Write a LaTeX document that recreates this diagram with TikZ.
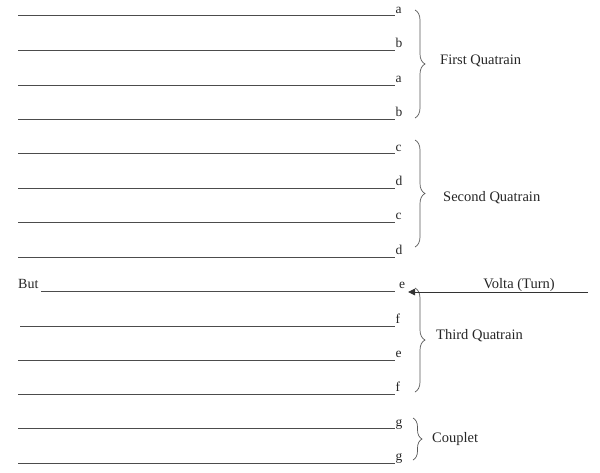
\documentclass[tikz,border=0pt]{standalone}
\usepackage{fontspec}
\setmainfont{Liberation Serif}
\usetikzlibrary{decorations.pathreplacing,arrows.meta}
\begin{document}
\begin{tikzpicture}[x=1pt,y=-1pt,
  blank/.style={draw=black!70,line width=0.9pt},
  rhyme/.style={inner sep=0pt,anchor=base west,font=\fontsize{13.5}{16}\selectfont,text=black!85},
  lbl/.style={inner sep=0pt,anchor=west,font=\fontsize{14.5}{17}\selectfont,text=black!85},
  grp/.style={draw=black!65,line width=0.7pt,decorate,decoration={brace,amplitude=10pt}},
  volta/.style={draw=black!80,line width=0.9pt,-{Triangle[length=7pt,width=6.5pt]}}]
\useasboundingbox (0,0) rectangle (600,472);
% blank lines
\foreach \i/\y/\x/\r in {1/15.5/18/a,2/50/18/b,3/85/18/a,4/119/18/b,5/153.5/18/c,6/188/18/d,7/222/18/c,8/257/18/d,10/326/20/f,11/360/18/e,12/394/18/f,13/428.5/18/g,14/463/18/g}{
  \coordinate (L\i) at (\x,\y);
  \coordinate (R\i) at (395,\y);
  \draw[blank] (L\i) -- (R\i);
  \node[rhyme] (r\i) at (395.5,\y-2.5) {\r};
}
% But line
\node[inner sep=0pt,anchor=base west,font=\fontsize{14}{16}\selectfont,text=black!85] (but) at (18,288) {But};
\coordinate (L9) at (41,291);
\coordinate (R9) at (395,291);
\draw[blank] (L9) -- (R9);
\node[rhyme] (r9) at (399,288.5) {e};
% braces
\coordinate (b1t) at (415,10);  \coordinate (b1b) at (415,118);
\coordinate (b2t) at (415,140); \coordinate (b2b) at (415,247);
\coordinate (b3t) at (415,288); \coordinate (b3b) at (415,392);
\coordinate (b4t) at (413,418); \coordinate (b4b) at (413,460);
\draw[grp] (b1t) -- (b1b);
\draw[grp] (b2t) -- (b2b);
\draw[grp] (b3t) -- (b3b);
\draw[grp,decoration={brace,amplitude=9pt}] (b4t) -- (b4b);
\node[lbl] (q1) at (440,61) {First Quatrain};
\node[lbl] (q2) at (443,198) {Second Quatrain};
\node[lbl] (q3) at (436,336) {Third Quatrain};
\node[lbl] (cp) at (432,439) {Couplet};
% volta
\node[lbl,anchor=base] (vt) at (519,288) {Volta (Turn)};
\coordinate (vstart) at (588,292);
\coordinate (vend) at (408,292);
\draw[volta] (vstart) -- (vend);
\end{tikzpicture}
\end{document}
